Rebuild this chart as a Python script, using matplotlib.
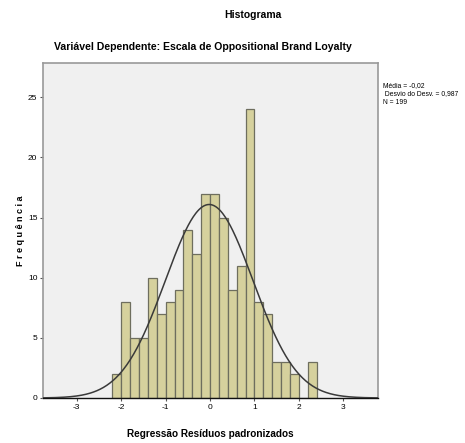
import numpy as np
import matplotlib
matplotlib.use("Agg")
import matplotlib.pyplot as plt
from matplotlib import font_manager

# Data
bin_edges_start = -2.2
bin_width = 0.2
counts = [2, 8, 5, 5, 10, 7, 8, 9, 14, 12, 17, 17, 15, 9, 11, 24, 8, 7, 3, 3, 2, 0, 3]
mean = -0.02
std = 0.987
n = 199
x_ticks = [-3, -2, -1, 0, 1, 2, 3]
y_ticks = [0, 5, 10, 15, 20, 25]

names = {f.name for f in font_manager.fontManager.ttflist}
fam = "Liberation Sans Narrow" if "Liberation Sans Narrow" in names else "Liberation Sans"
plt.rcParams['font.family'] = [fam, 'DejaVu Sans']
plt.rcParams['axes.unicode_minus'] = False

fig = plt.figure(figsize=(4.65, 4.43), dpi=100)
ax = fig.add_axes([43/465, 45/443, 335/465, 335/443])
ax.set_facecolor('#F0F0F0')

lefts = bin_edges_start + bin_width * np.arange(len(counts))
ax.bar(lefts, counts, width=bin_width, align='edge', color='#D6D19D',
       edgecolor='#6E6E5E', linewidth=0.9, zorder=2)

xs = np.linspace(-3.76, 3.78, 400)
pdf = n * bin_width * np.exp(-0.5 * ((xs - mean) / std) ** 2) / (std * np.sqrt(2 * np.pi))
ax.plot(xs, pdf, color='#3A3A3A', linewidth=1.1, zorder=3)

ax.set_xlim(-3.76, 3.78)
ax.set_ylim(0, 27.85)
ax.set_xticks(x_ticks)
ax.set_yticks(y_ticks)
ax.tick_params(axis='both', labelsize=6, length=2.5, width=0.8, color='#555555', pad=1.5)
for s in ['top', 'right', 'left']:
    ax.spines[s].set_color('#999999')
    ax.spines[s].set_linewidth(1.2)
ax.spines['bottom'].set_color('#111111')
ax.spines['bottom'].set_linewidth(1.0)

ax.set_xlabel('Regressão Resíduos padronizados', fontsize=7.2, fontweight='bold', labelpad=13)
ax.set_ylabel('F r e q u ê n c i a', fontsize=6.5, fontweight='bold', labelpad=2)

fig.text(253/465, 1 - 15/443, 'Histograma', ha='center', va='center', fontsize=7.5, fontweight='bold')
fig.text(203/465, 1 - 47/443, 'Variável Dependente: Escala de Oppositional Brand Loyalty',
         ha='center', va='center', fontsize=7.6, fontweight='bold')

fig.text(383/465, 1 - 94/443, 'Média = -0,02\n Desvio do Desv. = 0,987\nN = 199',
         ha='left', va='center', fontsize=4.9, linespacing=1.2)

fig.savefig('out.png', dpi=100, facecolor='white')
